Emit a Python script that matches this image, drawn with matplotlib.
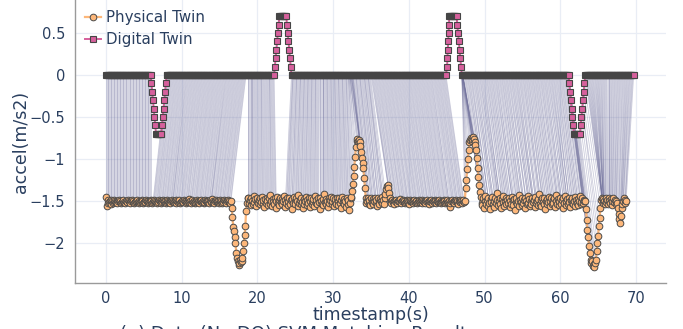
import numpy as np
import matplotlib
matplotlib.use("Agg")
import matplotlib.pyplot as plt
from matplotlib.collections import LineCollection

# ---------------- data ----------------
pt_period = 0.1
pt_flat1 = [-1.45,-1.56,-1.52,-1.49,-1.51,-1.50,-1.53,-1.49,-1.50,-1.52,-1.51,-1.49,-1.50,-1.51,-1.50,
            -1.52,-1.50,-1.49,-1.51,-1.50,-1.52,-1.51,-1.50,-1.49,-1.51,-1.52,-1.50,-1.50,-1.51,-1.49,
            -1.50,-1.51,-1.52,-1.50,-1.49,-1.51,-1.50,-1.52,-1.51,-1.50,-1.50,-1.49,-1.51,-1.52,-1.50,
            -1.51,-1.50,-1.49,-1.50,-1.52,-1.51,-1.50,-1.51,-1.49,-1.50,-1.52,-1.50,-1.51,-1.50,-1.49,
            -1.50,-1.52,-1.51,-1.50,-1.49,-1.50,-1.51,-1.52,-1.50,-1.51,-1.49,-1.50,-1.50,-1.52,-1.51,
            -1.49,-1.51,-1.50,-1.50,-1.52,-1.51,-1.49,-1.50,-1.51,-1.50,-1.52,-1.50,-1.49,-1.51,-1.50,
            -1.51,-1.50,-1.52,-1.49,-1.50,-1.51,-1.50,-1.49,-1.52,-1.51,-1.50,-1.50,-1.51,-1.49,-1.50,
            -1.52,-1.50,-1.51,-1.50,-1.48,-1.51,-1.50,-1.52,-1.50,-1.49,-1.51,-1.50,-1.52,-1.51,-1.50,
            -1.49,-1.50,-1.51,-1.52,-1.50,-1.50,-1.49,-1.51,-1.50,-1.52,-1.51,-1.49,-1.50,-1.51,-1.50,
            -1.50,-1.52,-1.49,-1.51,-1.50,-1.48,-1.50,-1.51,-1.52,-1.50,-1.49,-1.51,-1.50,-1.50,-1.52,
            -1.51,-1.49,-1.50,-1.52,-1.50,-1.51,-1.49,-1.50,-1.51,-1.52,-1.50,-1.49,-1.51,-1.50,-1.52]
pt_dip1 = [-1.50,-1.58,-1.69,-1.81,-1.86,-1.93,-2.00,-2.12,-2.18,-2.22,-2.26,-2.24,-2.20,-2.23,
           -2.21,-2.18,-2.10,-2.00,-1.90,-1.80,-1.62,-1.52,-1.47]
pt_noisy1 = [-1.46,-1.52,-1.49,-1.55,-1.47,-1.50,-1.53,-1.44,-1.51,-1.48,-1.56,-1.50,-1.46,-1.52,-1.49,-1.54,-1.47,
             -1.51,-1.45,-1.53,-1.49,-1.57,-1.48,-1.52,-1.46,-1.50,-1.55,-1.47,-1.53,-1.43,-1.50,-1.56,-1.48,-1.51,
             -1.54,-1.47,-1.50,-1.58,-1.45,-1.52,-1.49,-1.55,-1.46,-1.51,-1.48,-1.53,-1.50,-1.44,-1.57,-1.49,-1.52,
             -1.47,-1.55,-1.50,-1.46,-1.53,-1.49,-1.60,-1.48,-1.52,-1.45,-1.51,-1.54,-1.47,-1.50,-1.56,-1.43,-1.52,
             -1.49,-1.54,-1.46,-1.51,-1.58,-1.48,-1.53,-1.50,-1.45,-1.55,-1.49,-1.52,-1.47,-1.57,-1.50,-1.46,-1.53,
             -1.51,-1.48,-1.56,-1.44,-1.52,-1.49,-1.54,-1.47,-1.51,-1.59,-1.46,-1.50,-1.53,-1.48,-1.55,-1.42,-1.51,
             -1.48,-1.53,-1.50,-1.57,-1.46,-1.52,-1.49,-1.45,-1.54,-1.50,-1.47,-1.56,-1.51,-1.48,-1.53,-1.46,-1.50,
             -1.55,-1.47,-1.52,-1.49,-1.58,-1.45,-1.51,-1.54,-1.48,-1.50,-1.57,-1.46,-1.53,-1.49,-1.61,-1.52,-1.47]
pt_peak1 = [-1.45,-1.38,-1.30,-1.20,-1.09,-0.98,-0.86,-0.78,-0.76,-0.78,-0.77,-0.80,-0.85,-0.92,
            -0.99,-1.05,-1.11,-1.23,-1.35,-1.46,-1.52]
pt_mid = [-1.50,-1.46,-1.53,-1.49,-1.55,-1.47,-1.51,-1.48,-1.54,-1.50,-1.46,-1.52,-1.49,-1.56,-1.47,-1.51,
          -1.53,-1.48,-1.50,-1.45,-1.52,-1.49,-1.54,-1.47,
          -1.42,-1.36,-1.32,-1.31,-1.35,-1.40,-1.46,
          -1.50,-1.52,-1.49,-1.51,-1.50,-1.53,-1.50,-1.49,-1.51,-1.52,-1.50,-1.50,-1.48,-1.51,
          -1.52,-1.50,-1.49,-1.51,-1.50,-1.52,-1.51,-1.49,-1.50,-1.51,-1.53,-1.50,-1.49,-1.50,
          -1.51,-1.52,-1.50,-1.49,-1.51,-1.50,-1.50,-1.52,-1.51,-1.49,-1.50,-1.51,-1.50,-1.52,
          -1.49,-1.50,-1.51,-1.50,-1.52,-1.50,-1.49,-1.51,-1.53,-1.50,-1.50,-1.49,-1.51,-1.52,
          -1.50,-1.51,-1.49,-1.50,-1.52,-1.50,-1.51,-1.50,-1.49,-1.51,-1.50,-1.52,-1.51,-1.50,
          -1.49,-1.50,-1.52,-1.51,-1.50,-1.49,-1.51,-1.50,-1.57,-1.52,-1.50,-1.49,-1.51,-1.50,
          -1.52,-1.50,-1.49,-1.51,-1.50,-1.53,-1.50,-1.49,-1.51,-1.50,-1.52,-1.50,-1.49,-1.51]
pt_peak2 = [-1.50,-1.35,-1.25,-1.12,-1.00,-0.89,-0.80,-0.77,-0.75,-0.78,-0.76,-0.74,-0.76,-0.80,
            -0.83,-0.89,-0.99,-1.11,-1.21,-1.31,-1.39,-1.45,-1.52]
pt_noisy2 = [-1.55,-1.47,-1.58,-1.50,-1.44,-1.53,-1.49,-1.56,-1.46,-1.52,-1.60,-1.48,-1.51,-1.45,-1.54,-1.50,-1.57,
             -1.47,-1.52,-1.49,-1.41,-1.55,-1.50,-1.46,-1.53,-1.58,-1.48,-1.51,-1.44,-1.56,-1.50,-1.47,-1.54,-1.49,
             -1.52,-1.46,-1.57,-1.50,-1.53,-1.45,-1.49,-1.55,-1.48,-1.61,-1.51,-1.47,-1.53,-1.50,-1.43,-1.56,-1.49,
             -1.51,-1.55,-1.47,-1.52,-1.49,-1.58,-1.46,-1.50,-1.54,-1.44,-1.52,-1.48,-1.56,-1.50,-1.53,-1.47,-1.51,
             -1.49,-1.57,-1.45,-1.52,-1.50,-1.55,-1.48,-1.42,-1.53,-1.49,-1.56,-1.47,-1.51,-1.54,-1.46,-1.59,-1.50,
             -1.53,-1.48,-1.51,-1.45,-1.56,-1.50,-1.47,-1.54,-1.49,-1.52,-1.46,-1.57,-1.50,-1.43,-1.53,-1.48,-1.55,
             -1.50,-1.46,-1.53,-1.49,-1.58,-1.47,-1.52,-1.44,-1.55,-1.50,-1.48,-1.54,-1.46,-1.51,-1.57,-1.49,-1.52,
             -1.47,-1.54,-1.50,-1.45,-1.56,-1.49,-1.52,-1.48,-1.55,-1.50,-1.44,-1.53,-1.51,-1.47,-1.52,-1.49,-1.50]
pt_dip2 = [-1.50,-1.60,-1.73,-1.85,-1.93,-2.04,-2.12,-2.20,-2.24,-2.22,-2.27,-2.25,-2.29,-2.24,
           -2.20,-2.10,-2.00,-1.92,-1.80,-1.70,-1.58,-1.49]
pt_tail = [-1.46,-1.52,-1.48,-1.50,-1.54,-1.47,-1.51,-1.49,-1.53,-1.46,-1.50,-1.52,-1.48,-1.55,-1.50,
           -1.47,-1.51,-1.49,-1.53,-1.50,
           -1.52,-1.58,-1.66,-1.72,-1.76,-1.68,-1.58,-1.53,-1.50,-1.47,-1.52,-1.49,-1.50]

dt_period = 0.1
dt_flat_ranges = [(0.0, 5.9), (8.0, 22.2), (24.5, 44.9), (47.0, 61.1), (63.3, 69.7)]
dt_dip1_t = [6.0, 6.1, 6.2, 6.3, 6.4, 6.5, 6.6, 6.7, 6.8, 6.9, 7.0, 7.1, 7.2, 7.3, 7.4, 7.5, 7.6, 7.7, 7.8, 7.9]
dt_dip1_v = [-0.1, -0.2, -0.3, -0.4, -0.5, -0.6, -0.7, -0.7, -0.7, -0.7, -0.7, -0.7, -0.7, -0.7,
             -0.6, -0.5, -0.4, -0.3, -0.2, -0.1]
dt_peak1_t = [22.3, 22.4, 22.5, 22.6, 22.7, 22.8, 22.9, 23.0, 23.1, 23.2, 23.3, 23.4, 23.5, 23.6, 23.7,
              23.8, 23.9, 24.0, 24.1, 24.2, 24.3, 24.4]
dt_peak1_v = [0.1, 0.2, 0.3, 0.4, 0.5, 0.6, 0.7, 0.7, 0.7, 0.7, 0.7, 0.7, 0.7, 0.7, 0.7, 0.7,
              0.6, 0.5, 0.4, 0.3, 0.2, 0.1]
dt_peak2_t = [45.05, 45.10, 45.15, 45.20, 45.25, 45.30, 45.35, 45.4, 45.5, 45.6, 45.7, 45.8, 45.9, 46.0,
              46.1, 46.2, 46.3, 46.4, 46.5, 46.6, 46.7, 46.8, 46.9]
dt_peak2_v = [0.1, 0.2, 0.3, 0.4, 0.5, 0.6, 0.7, 0.7, 0.7, 0.7, 0.7, 0.7, 0.7, 0.7, 0.7, 0.7, 0.7,
              0.6, 0.5, 0.4, 0.3, 0.2, 0.1]
dt_dip2_t = [61.2, 61.3, 61.4, 61.5, 61.6, 61.7, 61.8, 61.9, 62.0, 62.1, 62.2, 62.3, 62.4, 62.5, 62.6,
             62.7, 62.8, 62.9, 63.0, 63.1, 63.2]
dt_dip2_v = [-0.1, -0.2, -0.3, -0.4, -0.5, -0.6, -0.7, -0.7, -0.7, -0.7, -0.7, -0.7, -0.7, -0.7, -0.7,
             -0.6, -0.5, -0.4, -0.3, -0.2, -0.1]

# alignment: matched time ranges (digital twin -> physical twin)
align_dt = [(0.0, 5.9), (8.0, 18.5), (18.7, 22.2), (24.5, 31.9), (32.0, 32.6), (32.7, 34.9),
            (35.0, 44.9), (47.0, 47.1), (47.2, 61.1), (61.2, 61.8), (61.9, 62.6), (62.7, 63.2),
            (63.3, 65.6), (65.7, 69.7)]
align_pt = [(0.0, 5.9), (6.2, 16.5), (18.7, 22.5), (23.7, 32.6), (32.7, 34.2), (34.3, 36.9),
            (37.4, 47.3), (47.4, 49.5), (49.6, 63.2), (63.3, 63.9), (64.0, 64.7), (64.8, 65.4),
            (65.5, 65.8), (65.9, 68.7)]

xtick_vals = [0, 10, 20, 30, 40, 50, 60, 70]
ytick_vals = [0.5, 0, -0.5, -1, -1.5, -2]
ytick_labels = ["0.5", "0", "\u22120.5", "\u22121", "\u22121.5", "\u22122"]

# ---------------- build series ----------------
pt_values = np.array(pt_flat1 + pt_dip1 + pt_noisy1 + pt_peak1 + pt_mid + pt_peak2 +
                     pt_noisy2 + pt_dip2 + pt_tail)
pt_time = np.round(np.arange(len(pt_values)) * pt_period, 3)

dt_t, dt_v = [], []
for a, b in dt_flat_ranges:
    ts = np.round(np.arange(a, b + 1e-6, dt_period), 3)
    dt_t += list(ts)
    dt_v += [0.0] * len(ts)
for ts, vs in [(dt_dip1_t, dt_dip1_v), (dt_peak1_t, dt_peak1_v),
               (dt_peak2_t, dt_peak2_v), (dt_dip2_t, dt_dip2_v)]:
    dt_t += ts
    dt_v += vs
order = np.argsort(dt_t)
dt_time = np.array(dt_t)[order]
dt_values = np.array(dt_v)[order]


def idx_in(times, a, b):
    return np.where((times >= a - 1e-6) & (times <= b + 1e-6))[0]


segs = []
for (a, b), (c, d) in zip(align_dt, align_pt):
    di = idx_in(dt_time, a, b)
    pi = idx_in(pt_time, c, d)
    n = max(len(di), len(pi))
    ki = np.round(np.linspace(0, len(di) - 1, n)).astype(int)
    kp = np.round(np.linspace(0, len(pi) - 1, n)).astype(int)
    for i, j in zip(di[ki], pi[kp]):
        segs.append([(dt_time[i], dt_values[i]), (pt_time[j], pt_values[j])])

# ---------------- plot ----------------
text_col = "#2a3f5f"
fig = plt.figure(figsize=(6.83, 3.29), dpi=100)
ax = fig.add_axes([75 / 683, 46 / 329, 591 / 683, 283 / 329])

lc = LineCollection(segs, colors=[(0.45, 0.45, 0.62, 0.38)], linewidths=0.55, zorder=2)
ax.add_collection(lc)

ax.plot(pt_time, pt_values, color="#fdb77a", lw=1.6, marker="o", ms=4.8,
        mfc="#fdb77a", mec="#4a4a4a", mew=0.7, zorder=3, label="Physical Twin")
ax.plot(dt_time, dt_values, color="#d6609c", lw=1.4, marker="s", ms=3.8,
        mfc="#d6609c", mec="#454545", mew=0.8, zorder=4, label="Digital Twin")

ax.set_xlim(-4.1, 73.97)
ax.set_ylim(-2.476, 0.893)
ax.set_xticks(xtick_vals)
ax.set_yticks(ytick_vals)
ax.set_yticklabels(ytick_labels)
ax.tick_params(axis="both", length=0, labelsize=10.5, labelcolor=text_col)
ax.tick_params(axis="y", pad=7)
ax.tick_params(axis="x", pad=6)
ax.grid(True, color="#e9edf5", lw=0.9, zorder=0)
ax.set_axisbelow(True)
for s in ["top", "right"]:
    ax.spines[s].set_visible(False)
for s in ["left", "bottom"]:
    ax.spines[s].set_color("#9a9a9a")
    ax.spines[s].set_linewidth(1.0)

ax.set_xlabel("timestamp(s)", fontsize=12.5, color=text_col, labelpad=0)
ax.set_ylabel("accel(m/s2)", fontsize=12.5, color=text_col, labelpad=0)

leg = ax.legend(loc="upper left", bbox_to_anchor=(0.0, 1.0), frameon=False, fontsize=10.8,
                handlelength=1.1, handletextpad=0.3, labelspacing=0.5, borderaxespad=0.35,
                borderpad=0.3)
for t in leg.get_texts():
    t.set_color(text_col)

fig.text(0.43, 0.012, "(a) Data (No DQ) SVM Matching Result", ha="center", va="top",
         fontsize=13, color=text_col)

fig.savefig("out.png", dpi=100)
